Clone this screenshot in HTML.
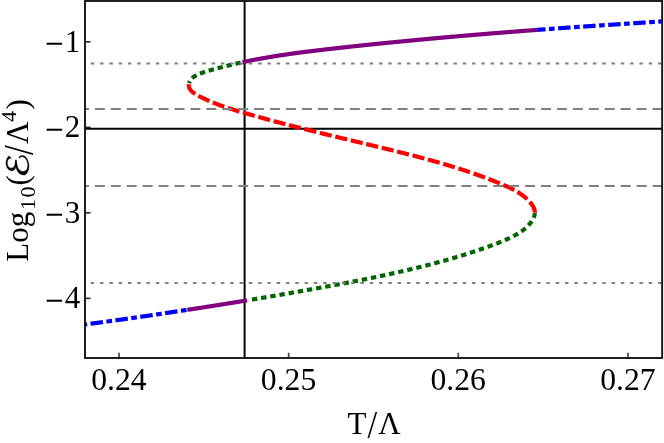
<!DOCTYPE html>
<html><head><meta charset="utf-8"><title>plot</title>
<style>
html,body{margin:0;padding:0;background:#fff;}
body{width:664px;height:443px;overflow:hidden;}
svg{display:block;will-change:transform;}
text{font-family:"Liberation Serif",serif;fill:#000;}
</style></head><body>
<svg width="664" height="443" viewBox="0 0 664 443">
<rect x="0" y="0" width="664" height="443" fill="#ffffff"/>

<g stroke="#000" stroke-width="2"><line x1="85.0" y1="128.7" x2="662.15" y2="128.7"/><line x1="244.6" y1="1.0" x2="244.6" y2="358.0"/></g>
<clipPath id="c"><rect x="85.0" y="1.0" width="577.15" height="357.0"/></clipPath>
<g clip-path="url(#c)" fill="none" stroke-width="4.2" stroke-linecap="butt" stroke-linejoin="round">
<path d="M77.99,325.40 L78.54,325.33 L79.10,325.26 L79.66,325.18 L80.21,325.11 L80.77,325.03 L81.32,324.96 L81.88,324.89 L82.44,324.81 L82.99,324.74 L83.55,324.67 L84.10,324.59 L84.66,324.52 L85.22,324.44 L85.77,324.37 L86.33,324.30 L86.89,324.22 L87.44,324.15 L88.00,324.08 L88.55,324.00 L89.11,323.93 L89.67,323.85 L90.22,323.78 L90.78,323.70 L91.33,323.63 L91.89,323.56 L92.44,323.48 L93.00,323.41 L93.56,323.33 L94.11,323.26 L94.67,323.18 L95.22,323.11 L95.78,323.03 L96.34,322.96 L96.89,322.89 L97.45,322.81 L98.00,322.74 L98.56,322.66 L99.11,322.59 L99.67,322.51 L100.23,322.44 L100.78,322.36 L101.34,322.29 L101.89,322.21 L102.45,322.14 L103.00,322.06 L103.56,321.99 L104.12,321.91 L104.67,321.84 L105.23,321.76 L105.78,321.69 L106.34,321.61 L106.89,321.54 L107.45,321.46 L108.01,321.39 L108.56,321.31 L109.12,321.23 L109.67,321.16 L110.23,321.08 L110.78,321.01 L111.34,320.93 L111.89,320.86 L112.45,320.78 L113.01,320.70 L113.56,320.63 L114.12,320.55 L114.67,320.48 L115.23,320.40 L115.78,320.33 L116.34,320.25 L116.89,320.17 L117.45,320.10 L118.00,320.02 L118.56,319.95 L119.11,319.87 L119.67,319.79 L120.23,319.72 L120.78,319.64 L121.34,319.56 L121.89,319.48 L122.45,319.40 L123.00,319.33 L123.56,319.25 L124.11,319.17 L124.67,319.09 L125.22,319.01 L125.78,318.93 L126.33,318.85 L126.89,318.77 L127.44,318.69 L128.00,318.61 L128.55,318.53 L129.11,318.45 L129.66,318.37 L130.22,318.29 L130.77,318.21 L131.33,318.14 L131.88,318.06 L132.44,317.98 L133.00,317.90 L133.55,317.82 L134.11,317.74 L134.66,317.66 L135.22,317.58 L135.77,317.50 L136.33,317.42 L136.88,317.34 L137.44,317.26 L137.99,317.18 L138.55,317.10 L139.10,317.02 L139.66,316.94 L140.21,316.86 L140.77,316.77 L141.32,316.69 L141.88,316.61 L142.43,316.53 L142.98,316.45 L143.54,316.37 L144.09,316.29 L144.65,316.21 L145.20,316.13 L145.76,316.05 L146.31,315.97 L146.87,315.89 L147.42,315.81 L147.98,315.73 L148.53,315.64 L149.09,315.56 L149.64,315.48 L150.20,315.40 L150.75,315.32 L151.31,315.24 L151.86,315.16 L152.42,315.08 L152.97,314.99 L153.53,314.91 L154.08,314.83 L154.64,314.75 L155.19,314.67 L155.74,314.59 L156.30,314.50 L156.85,314.42 L157.41,314.34 L157.96,314.26 L158.52,314.18 L159.07,314.10 L159.63,314.01 L160.18,313.93 L160.74,313.85 L161.29,313.77 L161.85,313.69 L162.40,313.60 L162.95,313.52 L163.51,313.44 L164.06,313.36 L164.62,313.27 L165.17,313.19 L165.73,313.11 L166.28,313.03 L166.84,312.94 L167.39,312.86 L167.94,312.78 L168.50,312.69 L169.05,312.61 L169.61,312.53 L170.16,312.45 L170.72,312.36 L171.27,312.28 L171.83,312.20 L172.38,312.11 L172.93,312.03 L173.49,311.95 L174.04,311.86 L174.60,311.78 L175.15,311.70 L175.71,311.61 L176.26,311.53 L176.81,311.45 L177.37,311.36 L177.92,311.28 L178.48,311.20 L179.03,311.11 L179.59,311.03 L180.14,310.94 L180.69,310.86 L181.25,310.78 L181.80,310.69 L182.36,310.61 L182.91,310.52 L183.46,310.44 L184.02,310.36 L184.57,310.27 L185.13,310.19 L185.68,310.10 L186.24,310.02 L186.79,309.93 L187.34,309.85" stroke="#0000ff" stroke-dasharray="12.5 3.45 5.7 3.45" stroke-dashoffset="-12.7"/>
<path d="M187.34,309.85 L187.90,309.76 L188.45,309.68 L189.01,309.59 L189.56,309.51 L190.11,309.43 L190.67,309.34 L191.22,309.26 L191.78,309.17 L192.33,309.09 L192.88,309.00 L193.44,308.92 L193.99,308.83 L194.55,308.74 L195.10,308.66 L195.65,308.57 L196.21,308.49 L196.76,308.40 L197.32,308.32 L197.87,308.23 L198.42,308.15 L198.98,308.06 L199.53,307.97 L200.09,307.89 L200.64,307.80 L201.19,307.72 L201.75,307.63 L202.30,307.54 L202.85,307.46 L203.41,307.37 L203.96,307.29 L204.52,307.20 L205.07,307.11 L205.62,307.03 L206.18,306.94 L206.73,306.85 L207.28,306.77 L207.84,306.68 L208.39,306.59 L208.95,306.51 L209.50,306.42 L210.05,306.33 L210.61,306.25 L211.16,306.16 L211.71,306.07 L212.27,305.99 L212.82,305.90 L213.38,305.81 L213.93,305.72 L214.48,305.64 L215.04,305.55 L215.59,305.46 L216.14,305.37 L216.70,305.29 L217.25,305.20 L217.80,305.11 L218.36,305.02 L218.91,304.94 L219.46,304.85 L220.02,304.76 L220.57,304.67 L221.13,304.58 L221.68,304.50 L222.23,304.41 L222.79,304.32 L223.34,304.23 L223.89,304.14 L224.45,304.05 L225.00,303.96 L225.55,303.88 L226.11,303.79 L226.66,303.70 L227.21,303.61 L227.77,303.52 L228.32,303.43 L228.87,303.34 L229.43,303.25 L229.98,303.16 L230.53,303.08 L231.09,302.99 L231.64,302.90 L232.19,302.81 L232.75,302.72 L233.30,302.63 L233.85,302.54 L234.41,302.45 L234.96,302.36 L235.51,302.27 L236.07,302.18 L236.62,302.09 L237.17,302.00 L237.73,301.91 L238.28,301.82 L238.83,301.73 L239.39,301.64 L239.94,301.55 L240.49,301.46 L241.05,301.37 L241.60,301.28 L242.15,301.19 L242.71,301.10 L243.26,301.01 L243.81,300.92 L244.37,300.83 L244.92,300.73 L245.47,300.64 L246.02,300.55 L246.58,300.46 L247.13,300.37" stroke="#800080"/>
<path d="M248.24,300.19 L248.79,300.10 L249.34,300.01 L249.90,299.91 L250.45,299.82 L251.00,299.73 L251.56,299.64 L252.11,299.55 L252.66,299.46 L253.21,299.36 L253.77,299.27 L254.32,299.18 L254.87,299.09 L255.43,299.00 L255.98,298.90 L256.53,298.81 L257.09,298.72 L257.64,298.63 L258.19,298.54 L258.74,298.44 L259.30,298.35 L259.85,298.26 L260.40,298.17 L260.96,298.07 L261.51,297.98 L262.06,297.89 L262.61,297.79 L263.17,297.70 L263.72,297.61 L264.27,297.51 L264.83,297.42 L265.38,297.33 L265.93,297.24 L266.48,297.14 L267.04,297.05 L267.59,296.95 L268.14,296.86 L268.70,296.77 L269.25,296.67 L269.80,296.58 L270.35,296.49 L270.91,296.39 L271.46,296.30 L272.01,296.20 L272.56,296.11 L273.12,296.02 L273.67,295.92 L274.22,295.83 L274.78,295.73 L275.33,295.64 L275.88,295.54 L276.43,295.45 L276.99,295.35 L277.54,295.26 L278.09,295.16 L278.64,295.07 L279.20,294.98 L279.75,294.88 L280.30,294.78 L280.85,294.69 L281.41,294.59 L281.96,294.50 L282.51,294.40 L283.07,294.31 L283.62,294.21 L284.17,294.12 L284.72,294.02 L285.28,293.93 L285.83,293.83 L286.38,293.73 L286.93,293.64 L287.49,293.54 L288.04,293.45 L288.59,293.35 L289.14,293.25 L289.70,293.16 L290.25,293.06 L290.80,292.96 L291.35,292.87 L291.91,292.77 L292.46,292.67 L293.01,292.58 L293.56,292.48 L294.12,292.38 L294.67,292.29 L295.22,292.19 L295.77,292.09 L296.32,292.00 L296.88,291.90 L297.43,291.80 L297.98,291.70 L298.53,291.61 L299.09,291.51 L299.64,291.41 L300.19,291.31 L300.74,291.22 L301.30,291.12 L301.85,291.02 L302.40,290.92 L302.95,290.83 L303.51,290.73 L304.06,290.63 L304.61,290.53 L305.16,290.43 L305.71,290.33 L306.27,290.24 L306.82,290.14 L307.37,290.04 L307.92,289.94 L308.48,289.84 L309.03,289.74 L309.58,289.64 L310.13,289.55 L310.68,289.45 L311.24,289.35 L311.79,289.25 L312.34,289.15 L312.89,289.05 L313.45,288.95 L314.00,288.85 L314.55,288.75 L315.10,288.65 L315.65,288.55 L316.21,288.45 L316.76,288.35 L317.31,288.25 L317.86,288.15 L318.41,288.05 L318.97,287.95 L319.52,287.85 L320.07,287.75 L320.62,287.65 L321.17,287.55 L321.73,287.45 L322.28,287.35 L322.83,287.25 L323.38,287.15 L323.94,287.05 L324.49,286.95 L325.04,286.85 L325.59,286.75 L326.14,286.65 L326.70,286.55 L327.25,286.44 L327.80,286.34 L328.35,286.24 L328.90,286.14 L329.46,286.04 L330.01,285.94 L330.56,285.83 L331.11,285.73 L331.66,285.63 L332.21,285.53 L332.77,285.43 L333.32,285.32 L333.87,285.22 L334.42,285.12 L334.97,285.02 L335.53,284.92 L336.08,284.81 L336.63,284.71 L337.18,284.61 L337.73,284.50 L338.28,284.40 L338.84,284.30 L339.39,284.19 L339.94,284.09 L340.49,283.99 L341.04,283.88 L341.60,283.78 L342.15,283.68 L342.70,283.57 L343.25,283.47 L343.80,283.36 L344.35,283.26 L344.90,283.16 L345.46,283.05 L346.01,282.95 L346.56,282.84 L347.11,282.74 L347.66,282.63 L348.21,282.53 L348.76,282.42 L349.32,282.31 L349.87,282.21 L350.42,282.10 L350.97,282.00 L351.52,281.89 L352.07,281.78 L352.62,281.68 L353.17,281.57 L353.73,281.47 L354.28,281.36 L354.83,281.25 L355.38,281.14 L355.93,281.04 L356.48,280.93 L357.03,280.82 L357.58,280.71 L358.13,280.61 L358.68,280.50 L359.23,280.39 L359.79,280.28 L360.34,280.17 L360.89,280.06 L361.44,279.96 L361.99,279.85 L362.54,279.74 L363.09,279.63 L363.64,279.52 L364.19,279.41 L364.74,279.30 L365.29,279.19 L365.84,279.08 L366.39,278.97 L366.94,278.86 L367.49,278.75 L368.04,278.63 L368.59,278.52 L369.14,278.41 L369.69,278.30 L370.24,278.19 L370.79,278.08 L371.34,277.96 L371.89,277.85 L372.44,277.74 L372.99,277.63 L373.54,277.51 L374.09,277.40 L374.64,277.29 L375.19,277.17 L375.74,277.06 L376.29,276.94 L376.84,276.83 L377.39,276.72 L377.94,276.60 L378.48,276.49 L379.03,276.37 L379.58,276.26 L380.13,276.14 L380.68,276.02 L381.23,275.91 L381.78,275.79 L382.33,275.67 L382.88,275.56 L383.42,275.44 L383.97,275.32 L384.52,275.21 L385.07,275.09 L385.62,274.97 L386.17,274.85 L386.72,274.73 L387.26,274.62 L387.81,274.50 L388.36,274.38 L388.91,274.26 L389.46,274.14 L390.00,274.02 L390.55,273.90 L391.10,273.78 L391.65,273.66 L392.20,273.54 L392.74,273.42 L393.29,273.29 L393.84,273.17 L394.39,273.05 L394.93,272.93 L395.48,272.81 L396.03,272.68 L396.57,272.56 L397.12,272.44 L397.67,272.31 L398.22,272.19 L398.76,272.07 L399.31,271.94 L399.86,271.82 L400.40,271.69 L400.95,271.57 L401.50,271.44 L402.04,271.32 L402.59,271.20 L403.13,271.07 L403.68,270.94 L404.23,270.82 L404.77,270.69 L405.32,270.57 L405.87,270.44 L406.41,270.31 L406.96,270.19 L407.50,270.06 L408.05,269.93 L408.59,269.80 L409.14,269.67 L409.68,269.54 L410.23,269.42 L410.77,269.29 L411.32,269.16 L411.86,269.03 L412.41,268.90 L412.95,268.77 L413.50,268.63 L414.04,268.50 L414.59,268.37 L415.13,268.24 L415.68,268.11 L416.22,267.98 L416.77,267.84 L417.31,267.71 L417.85,267.58 L418.40,267.44 L418.94,267.31 L419.48,267.17 L420.03,267.04 L420.57,266.90 L421.12,266.77 L421.66,266.63 L422.20,266.50 L422.75,266.36 L423.29,266.22 L423.83,266.09 L424.37,265.95 L424.92,265.81 L425.46,265.67 L426.00,265.53 L426.55,265.40 L427.09,265.26 L427.63,265.12 L428.17,264.98 L428.71,264.84 L429.26,264.70 L429.80,264.55 L430.34,264.41 L430.88,264.27 L431.42,264.13 L431.96,263.99 L432.51,263.84 L433.05,263.70 L433.59,263.56 L434.13,263.41 L434.67,263.27 L435.21,263.12 L435.75,262.98 L436.29,262.83 L436.83,262.69 L437.37,262.54 L437.91,262.39 L438.45,262.25 L438.99,262.10 L439.53,261.95 L440.07,261.80 L440.61,261.66 L441.15,261.51 L441.69,261.36 L442.23,261.21 L442.77,261.06 L443.31,260.91 L443.85,260.76 L444.39,260.61 L444.93,260.45 L445.47,260.30 L446.01,260.15 L446.54,260.00 L447.08,259.84 L447.62,259.69 L448.16,259.53 L448.70,259.38 L449.24,259.22 L449.77,259.07 L450.31,258.91 L450.85,258.76 L451.39,258.60 L451.92,258.44 L452.46,258.29 L453.00,258.13 L453.53,257.97 L454.07,257.81 L454.61,257.65 L455.14,257.49 L455.68,257.33 L456.22,257.17 L456.75,257.01 L457.29,256.85 L457.83,256.69 L458.36,256.53 L458.90,256.36 L459.43,256.20 L459.97,256.04 L460.50,255.87 L461.04,255.71 L461.57,255.54 L462.11,255.38 L462.64,255.21 L463.18,255.05 L463.71,254.88 L464.25,254.71 L464.78,254.54 L465.32,254.38 L465.85,254.21 L466.38,254.04 L466.92,253.87 L467.45,253.70 L467.98,253.53 L468.52,253.36 L469.05,253.19 L469.58,253.01 L470.12,252.84 L470.65,252.67 L471.18,252.50 L471.71,252.32 L472.25,252.15 L472.78,251.97 L473.31,251.80 L473.84,251.62 L474.38,251.45 L474.91,251.27 L475.44,251.09 L475.97,250.92 L476.50,250.74 L477.03,250.56 L477.56,250.38 L478.09,250.20 L478.62,250.02 L479.15,249.84 L479.69,249.66 L480.22,249.48 L480.75,249.29 L481.28,249.11 L481.80,248.93 L482.33,248.75 L482.86,248.56 L483.39,248.38 L483.92,248.19 L484.45,248.01 L484.98,247.82 L485.51,247.63 L486.04,247.45 L486.57,247.26 L487.09,247.07 L487.62,246.88 L488.15,246.69 L488.68,246.50 L489.20,246.31 L489.73,246.12 L490.26,245.93 L490.79,245.74 L491.31,245.54 L491.84,245.35 L492.37,245.16 L492.89,244.96 L493.42,244.77 L493.94,244.57 L494.47,244.37 L494.99,244.18 L495.52,243.98 L496.04,243.78 L496.57,243.58 L497.09,243.37 L497.61,243.17 L498.14,242.97 L498.66,242.76 L499.18,242.55 L499.70,242.34 L500.22,242.13 L500.74,241.92 L501.26,241.71 L501.78,241.50 L502.29,241.28 L502.81,241.06 L503.33,240.85 L503.84,240.62 L504.36,240.40 L504.87,240.18 L505.39,239.95 L505.90,239.73 L506.41,239.50 L506.92,239.26 L507.43,239.03 L507.94,238.79 L508.45,238.56 L508.96,238.32 L509.46,238.08 L509.97,237.83 L510.47,237.58 L510.97,237.34 L511.48,237.09 L511.98,236.83 L512.48,236.58 L512.98,236.32 L513.47,236.06 L513.97,235.79 L514.47,235.53 L514.96,235.26 L515.45,234.99 L515.95,234.71 L516.44,234.44 L516.93,234.16 L517.41,233.87 L517.90,233.58 L518.38,233.29 L518.86,233.00 L519.34,232.70 L519.81,232.40 L520.29,232.09 L520.76,231.78 L521.22,231.47 L521.69,231.15 L522.15,230.82 L522.60,230.49 L523.06,230.16 L523.51,229.82 L523.95,229.47 L524.39,229.12 L524.83,228.77 L525.26,228.40 L525.69,228.04 L526.11,227.66 L526.53,227.28 L526.94,226.89 L527.34,226.50 L527.74,226.10 L528.14,225.69 L528.53,225.27 L528.91,224.85 L529.29,224.42 L529.66,223.99 L530.02,223.54 L530.38,223.09 L530.73,222.63 L531.07,222.16 L531.40,221.68 L531.73,221.20 L532.04,220.72 L532.34,220.22 L532.62,219.73 L532.90,219.22 L533.16,218.72 L533.40,218.21 L533.63,217.69 L533.84,217.18 L534.03,216.66 L534.20,216.14 L534.36,215.61 L534.49,215.09 L534.60,214.57 L534.69,214.04 L534.75,213.52 L534.80,212.99" stroke="#006400" stroke-dasharray="5.4 3.9" stroke-dashoffset="5.55"/>
<path d="M534.80,212.99 L534.81,212.47 L534.80,211.95 L534.76,211.43 L534.70,210.91 L534.61,210.40 L534.50,209.89 L534.36,209.38 L534.20,208.87 L534.02,208.37 L533.81,207.87 L533.59,207.37 L533.35,206.88 L533.09,206.39 L532.81,205.90 L532.51,205.42 L532.20,204.95 L531.88,204.47 L531.54,204.00 L531.19,203.54 L530.83,203.08 L530.46,202.63 L530.08,202.18 L529.69,201.74 L529.29,201.30 L528.88,200.87 L528.47,200.45 L528.05,200.03 L527.63,199.62 L527.21,199.21 L526.78,198.81 L526.35,198.42 L525.92,198.03 L525.48,197.66 L525.04,197.28 L524.60,196.91 L524.16,196.55 L523.72,196.20 L523.27,195.85 L522.82,195.50 L522.37,195.16 L521.91,194.83 L521.46,194.50 L521.00,194.17 L520.54,193.86 L520.08,193.54 L519.61,193.23 L519.14,192.93 L518.68,192.63 L518.21,192.33 L517.73,192.04 L517.26,191.75 L516.78,191.47 L516.30,191.19 L515.82,190.91 L515.34,190.64 L514.86,190.37 L514.37,190.11 L513.89,189.85 L513.40,189.59 L512.91,189.33 L512.42,189.08 L511.92,188.83 L511.43,188.58 L510.93,188.34 L510.44,188.10 L509.94,187.86 L509.44,187.62 L508.94,187.39 L508.44,187.15 L507.93,186.92 L507.43,186.69 L506.93,186.46 L506.42,186.24 L505.91,186.01 L505.40,185.79 L504.89,185.57 L504.38,185.35 L503.87,185.13 L503.36,184.91 L502.85,184.69 L502.34,184.47 L501.82,184.25 L501.31,184.04 L500.79,183.82 L500.28,183.61 L499.76,183.39 L499.24,183.18 L498.73,182.96 L498.21,182.75 L497.69,182.54 L497.17,182.33 L496.65,182.12 L496.13,181.91 L495.61,181.70 L495.09,181.49 L494.57,181.28 L494.04,181.07 L493.52,180.87 L493.00,180.66 L492.47,180.45 L491.95,180.25 L491.43,180.04 L490.90,179.84 L490.38,179.64 L489.85,179.44 L489.33,179.23 L488.80,179.03 L488.28,178.83 L487.75,178.63 L487.23,178.43 L486.70,178.23 L486.17,178.04 L485.65,177.84 L485.12,177.64 L484.60,177.45 L484.07,177.25 L483.54,177.05 L483.02,176.86 L482.49,176.67 L481.96,176.47 L481.43,176.28 L480.91,176.09 L480.38,175.90 L479.85,175.71 L479.32,175.52 L478.79,175.33 L478.26,175.14 L477.74,174.95 L477.21,174.76 L476.68,174.57 L476.15,174.39 L475.62,174.20 L475.09,174.01 L474.56,173.83 L474.03,173.65 L473.50,173.46 L472.97,173.28 L472.44,173.09 L471.91,172.91 L471.38,172.73 L470.85,172.55 L470.32,172.37 L469.79,172.19 L469.26,172.01 L468.73,171.83 L468.19,171.65 L467.66,171.47 L467.13,171.29 L466.60,171.12 L466.07,170.94 L465.53,170.76 L465.00,170.59 L464.47,170.41 L463.94,170.24 L463.41,170.06 L462.87,169.89 L462.34,169.72 L461.81,169.54 L461.27,169.37 L460.74,169.20 L460.21,169.03 L459.67,168.86 L459.14,168.69 L458.61,168.52 L458.07,168.35 L457.54,168.18 L457.00,168.01 L456.47,167.84 L455.94,167.68 L455.40,167.51 L454.87,167.34 L454.33,167.18 L453.80,167.01 L453.26,166.85 L452.73,166.68 L452.19,166.52 L451.66,166.35 L451.12,166.19 L450.58,166.03 L450.05,165.86 L449.51,165.70 L448.98,165.54 L448.44,165.38 L447.90,165.22 L447.37,165.06 L446.83,164.90 L446.29,164.74 L445.76,164.58 L445.22,164.42 L444.68,164.26 L444.15,164.10 L443.61,163.94 L443.07,163.79 L442.54,163.63 L442.00,163.47 L441.46,163.32 L440.92,163.16 L440.38,163.00 L439.85,162.85 L439.31,162.69 L438.77,162.54 L438.23,162.39 L437.69,162.23 L437.16,162.08 L436.62,161.93 L436.08,161.77 L435.54,161.62 L435.00,161.47 L434.46,161.32 L433.92,161.17 L433.38,161.01 L432.85,160.86 L432.31,160.71 L431.77,160.56 L431.23,160.41 L430.69,160.26 L430.15,160.12 L429.61,159.97 L429.07,159.82 L428.53,159.67 L427.99,159.52 L427.45,159.38 L426.91,159.23 L426.37,159.08 L425.83,158.94 L425.29,158.79 L424.75,158.64 L424.21,158.50 L423.67,158.35 L423.12,158.21 L422.58,158.06 L422.04,157.92 L421.50,157.77 L420.96,157.63 L420.42,157.49 L419.88,157.34 L419.34,157.20 L418.80,157.06 L418.25,156.91 L417.71,156.77 L417.17,156.63 L416.63,156.49 L416.09,156.34 L415.55,156.20 L415.00,156.06 L414.46,155.92 L413.92,155.78 L413.38,155.64 L412.83,155.50 L412.29,155.36 L411.75,155.22 L411.21,155.08 L410.67,154.94 L410.12,154.80 L409.58,154.66 L409.04,154.52 L408.49,154.39 L407.95,154.25 L407.41,154.11 L406.87,153.97 L406.32,153.83 L405.78,153.70 L405.24,153.56 L404.69,153.42 L404.15,153.28 L403.61,153.15 L403.06,153.01 L402.52,152.87 L401.98,152.74 L401.43,152.60 L400.89,152.47 L400.35,152.33 L399.80,152.19 L399.26,152.06 L398.72,151.92 L398.17,151.79 L397.63,151.65 L397.08,151.52 L396.54,151.38 L396.00,151.25 L395.45,151.11 L394.91,150.98 L394.36,150.85 L393.82,150.71 L393.28,150.58 L392.73,150.44 L392.19,150.31 L391.64,150.18 L391.10,150.04 L390.55,149.91 L390.01,149.78 L389.46,149.64 L388.92,149.51 L388.38,149.38 L387.83,149.24 L387.29,149.11 L386.74,148.98 L386.20,148.85 L385.65,148.71 L385.11,148.58 L384.56,148.45 L384.02,148.32 L383.47,148.18 L382.93,148.05 L382.38,147.92 L381.84,147.79 L381.29,147.66 L380.75,147.52 L380.20,147.39 L379.66,147.26 L379.11,147.13 L378.57,147.00 L378.02,146.87 L377.48,146.73 L376.93,146.60 L376.39,146.47 L375.84,146.34 L375.30,146.21 L374.75,146.08 L374.21,145.95 L373.66,145.81 L373.12,145.68 L372.57,145.55 L372.02,145.42 L371.48,145.29 L370.93,145.16 L370.39,145.03 L369.84,144.90 L369.30,144.76 L368.75,144.63 L368.21,144.50 L367.66,144.37 L367.12,144.24 L366.57,144.11 L366.03,143.98 L365.48,143.85 L364.93,143.72 L364.39,143.59 L363.84,143.45 L363.30,143.32 L362.75,143.19 L362.21,143.06 L361.66,142.93 L361.12,142.80 L360.57,142.67 L360.02,142.54 L359.48,142.41 L358.93,142.28 L358.39,142.15 L357.84,142.02 L357.30,141.88 L356.75,141.75 L356.20,141.62 L355.66,141.49 L355.11,141.36 L354.57,141.23 L354.02,141.10 L353.48,140.97 L352.93,140.84 L352.38,140.71 L351.84,140.58 L351.29,140.44 L350.75,140.31 L350.20,140.18 L349.66,140.05 L349.11,139.92 L348.57,139.79 L348.02,139.66 L347.47,139.53 L346.93,139.40 L346.38,139.27 L345.84,139.13 L345.29,139.00 L344.75,138.87 L344.20,138.74 L343.65,138.61 L343.11,138.48 L342.56,138.35 L342.02,138.22 L341.47,138.08 L340.93,137.95 L340.38,137.82 L339.84,137.69 L339.29,137.56 L338.74,137.43 L338.20,137.30 L337.65,137.16 L337.11,137.03 L336.56,136.90 L336.02,136.77 L335.47,136.64 L334.93,136.51 L334.38,136.37 L333.84,136.24 L333.29,136.11 L332.75,135.98 L332.20,135.85 L331.65,135.71 L331.11,135.58 L330.56,135.45 L330.02,135.32 L329.47,135.18 L328.93,135.05 L328.38,134.92 L327.84,134.79 L327.29,134.65 L326.75,134.52 L326.20,134.39 L325.66,134.26 L325.11,134.12 L324.57,133.99 L324.02,133.86 L323.48,133.72 L322.93,133.59 L322.39,133.46 L321.84,133.32 L321.30,133.19 L320.75,133.06 L320.21,132.92 L319.66,132.79 L319.12,132.66 L318.57,132.52 L318.03,132.39 L317.48,132.25 L316.94,132.12 L316.39,131.99 L315.85,131.85 L315.31,131.72 L314.76,131.58 L314.22,131.45 L313.67,131.31 L313.13,131.18 L312.58,131.04 L312.04,130.91 L311.49,130.77 L310.95,130.64 L310.41,130.50 L309.86,130.37 L309.32,130.23 L308.77,130.10 L308.23,129.96 L307.68,129.83 L307.14,129.69 L306.60,129.56 L306.05,129.42 L305.51,129.28 L304.96,129.15 L304.42,129.01 L303.88,128.87 L303.33,128.74 L302.79,128.60 L302.25,128.46 L301.70,128.33 L301.16,128.19 L300.61,128.05 L300.07,127.92 L299.53,127.78 L298.98,127.64 L298.44,127.50 L297.90,127.37 L297.35,127.23 L296.81,127.09 L296.27,126.95 L295.72,126.81 L295.18,126.68 L294.64,126.54 L294.10,126.40 L293.55,126.26 L293.01,126.12 L292.47,125.98 L291.92,125.84 L291.38,125.70 L290.84,125.56 L290.30,125.43 L289.75,125.29 L289.21,125.15 L288.67,125.01 L288.13,124.87 L287.58,124.73 L287.04,124.58 L286.50,124.44 L285.96,124.30 L285.41,124.16 L284.87,124.02 L284.33,123.88 L283.79,123.74 L283.25,123.60 L282.71,123.46 L282.16,123.31 L281.62,123.17 L281.08,123.03 L280.54,122.89 L280.00,122.75 L279.46,122.60 L278.91,122.46 L278.37,122.32 L277.83,122.17 L277.29,122.03 L276.75,121.89 L276.21,121.74 L275.67,121.60 L275.13,121.46 L274.58,121.31 L274.04,121.17 L273.50,121.02 L272.96,120.88 L272.42,120.73 L271.88,120.59 L271.34,120.44 L270.80,120.30 L270.26,120.15 L269.72,120.01 L269.18,119.86 L268.64,119.72 L268.10,119.57 L267.56,119.42 L267.02,119.28 L266.48,119.13 L265.94,118.98 L265.40,118.84 L264.86,118.69 L264.32,118.54 L263.78,118.39 L263.24,118.24 L262.70,118.10 L262.16,117.95 L261.62,117.80 L261.09,117.65 L260.55,117.50 L260.01,117.35 L259.47,117.20 L258.93,117.05 L258.39,116.90 L257.85,116.75 L257.31,116.60 L256.78,116.45 L256.24,116.30 L255.70,116.15 L255.16,116.00 L254.62,115.85 L254.08,115.70 L253.55,115.55 L253.01,115.40 L252.47,115.24 L251.93,115.09 L251.40,114.94 L250.86,114.79 L250.32,114.63 L249.78,114.48 L249.25,114.33 L248.71,114.17 L248.17,114.02 L247.63,113.86 L247.10,113.71 L246.56,113.55 L246.02,113.40 L245.49,113.25 L244.95,113.09 L244.42,112.93 L243.88,112.78 L243.34,112.62 L242.81,112.47 L242.27,112.31 L241.73,112.15 L241.20,112.00 L240.66,111.84 L240.13,111.68 L239.59,111.52 L239.06,111.37 L238.52,111.21 L237.99,111.05 L237.45,110.89 L236.92,110.73 L236.38,110.57 L235.85,110.41 L235.31,110.24 L234.78,110.08 L234.24,109.92 L233.71,109.76 L233.18,109.59 L232.64,109.43 L232.11,109.26 L231.58,109.09 L231.04,108.93 L230.51,108.76 L229.98,108.59 L229.44,108.42 L228.91,108.25 L228.38,108.08 L227.85,107.91 L227.32,107.73 L226.78,107.56 L226.25,107.38 L225.72,107.20 L225.19,107.03 L224.66,106.85 L224.13,106.67 L223.60,106.49 L223.07,106.30 L222.54,106.12 L222.01,105.93 L221.48,105.75 L220.96,105.56 L220.43,105.37 L219.90,105.18 L219.37,104.99 L218.85,104.79 L218.32,104.60 L217.79,104.40 L217.27,104.20 L216.74,104.00 L216.21,103.80 L215.69,103.60 L215.16,103.40 L214.64,103.19 L214.11,102.98 L213.59,102.77 L213.07,102.56 L212.54,102.35 L212.02,102.13 L211.50,101.92 L210.98,101.70 L210.45,101.48 L209.93,101.25 L209.41,101.03 L208.89,100.80 L208.37,100.57 L207.85,100.34 L207.33,100.11 L206.81,99.87 L206.29,99.64 L205.78,99.40 L205.26,99.16 L204.74,98.91 L204.22,98.67 L203.71,98.42 L203.19,98.17 L202.68,97.91 L202.16,97.66 L201.65,97.40 L201.13,97.14 L200.62,96.88 L200.11,96.61 L199.59,96.35 L199.08,96.08 L198.57,95.80 L198.06,95.53 L197.55,95.25 L197.04,94.97 L196.53,94.68 L196.03,94.39 L195.54,94.10 L195.05,93.80 L194.57,93.49 L194.10,93.18 L193.65,92.86 L193.20,92.54 L192.77,92.20 L192.36,91.86 L191.96,91.51 L191.58,91.14 L191.22,90.77 L190.88,90.39 L190.56,89.99 L190.27,89.59 L190.00,89.17 L189.76,88.74 L189.55,88.29 L189.36,87.83 L189.21,87.36 L189.09,86.87 L189.00,86.36 L188.94,85.84 L188.92,85.31 L188.93,84.77 L188.98,84.23 L189.05,83.69 L189.16,83.16" stroke="#ff0000" stroke-dasharray="12.2 3.7" stroke-dashoffset="-0.35"/>
<path d="M189.16,83.16 L189.30,82.64 L189.47,82.13 L189.67,81.63 L189.90,81.15 L190.16,80.68 L190.44,80.23 L190.75,79.79 L191.09,79.36 L191.44,78.95 L191.82,78.55 L192.22,78.16 L192.64,77.79 L193.08,77.42 L193.53,77.07 L194.00,76.73 L194.49,76.40 L194.98,76.08 L195.49,75.78 L196.01,75.48 L196.55,75.19 L197.08,74.91 L197.63,74.64 L198.19,74.38 L198.74,74.13 L199.31,73.89 L199.87,73.65 L200.44,73.43 L201.01,73.21 L201.57,73.00 L202.14,72.79 L202.70,72.59 L203.25,72.40 L203.81,72.22 L204.35,72.04 L204.90,71.86 L205.43,71.69 L205.97,71.52 L206.50,71.36 L207.03,71.20 L207.56,71.04 L208.08,70.88 L208.61,70.73 L209.13,70.58 L209.65,70.44 L210.17,70.29 L210.69,70.15 L211.21,70.00 L211.73,69.86 L212.25,69.72 L212.78,69.57 L213.30,69.43 L213.83,69.29 L214.35,69.15 L214.88,69.01 L215.41,68.86 L215.93,68.72 L216.46,68.58 L216.99,68.44 L217.53,68.30 L218.06,68.16 L218.59,68.01 L219.12,67.87 L219.66,67.73 L220.19,67.59 L220.73,67.45 L221.26,67.31 L221.80,67.17 L222.34,67.03 L222.88,66.90 L223.42,66.76 L223.96,66.62 L224.49,66.48 L225.04,66.34 L225.58,66.21 L226.12,66.07 L226.66,65.93 L227.20,65.80 L227.75,65.66 L228.29,65.53 L228.83,65.39 L229.38,65.26 L229.92,65.13 L230.47,64.99 L231.01,64.86 L231.56,64.73 L232.10,64.60 L232.65,64.47 L233.20,64.34 L233.74,64.21 L234.29,64.08 L234.84,63.95 L235.39,63.83 L235.93,63.70 L236.48,63.57 L237.03,63.45 L237.58,63.32 L238.13,63.20 L238.67,63.08 L239.22,62.95 L239.77,62.83 L240.32,62.71 L240.87,62.59 L241.42,62.47 L241.97,62.35 L242.51,62.23" stroke="#006400" stroke-dasharray="5.4 3.8" stroke-dashoffset="3.4"/>
<path d="M242.51,62.23 L243.06,62.11 L243.61,61.99 L244.16,61.87 L244.71,61.76 L245.26,61.64 L245.81,61.53 L246.36,61.41 L246.91,61.30 L247.46,61.18 L248.01,61.07 L248.56,60.96 L249.11,60.85 L249.66,60.74 L250.21,60.63 L250.76,60.52 L251.31,60.41 L251.86,60.30 L252.41,60.19 L252.96,60.08 L253.51,59.97 L254.06,59.87 L254.61,59.76 L255.16,59.66 L255.71,59.55 L256.26,59.45 L256.81,59.34 L257.36,59.24 L257.91,59.14 L258.47,59.04 L259.02,58.93 L259.57,58.83 L260.12,58.73 L260.67,58.63 L261.22,58.53 L261.77,58.43 L262.33,58.34 L262.88,58.24 L263.43,58.14 L263.98,58.04 L264.53,57.95 L265.08,57.85 L265.64,57.76 L266.19,57.66 L266.74,57.57 L267.29,57.47 L267.84,57.38 L268.40,57.29 L268.95,57.20 L269.50,57.10 L270.05,57.01 L270.61,56.92 L271.16,56.83 L271.71,56.73 L272.26,56.64 L272.82,56.55 L273.37,56.46 L273.92,56.37 L274.47,56.28 L275.03,56.19 L275.58,56.10 L276.13,56.01 L276.69,55.92 L277.24,55.83 L277.79,55.74 L278.35,55.66 L278.90,55.57 L279.45,55.48 L280.01,55.40 L280.56,55.31 L281.11,55.23 L281.67,55.14 L282.22,55.06 L282.77,54.97 L283.33,54.89 L283.88,54.81 L284.44,54.72 L284.99,54.64 L285.54,54.56 L286.10,54.48 L286.65,54.40 L287.21,54.32 L287.76,54.24 L288.31,54.16 L288.87,54.08 L289.42,54.00 L289.98,53.92 L290.53,53.84 L291.08,53.76 L291.64,53.68 L292.19,53.61 L292.75,53.53 L293.30,53.45 L293.86,53.38 L294.41,53.30 L294.97,53.22 L295.52,53.15 L296.08,53.07 L296.63,53.00 L297.19,52.92 L297.74,52.85 L298.30,52.78 L298.85,52.70 L299.41,52.63 L299.96,52.56 L300.52,52.48 L301.07,52.41 L301.63,52.34 L302.18,52.27 L302.74,52.20 L303.29,52.13 L303.85,52.06 L304.40,51.99 L304.96,51.92 L305.51,51.85 L306.07,51.78 L306.63,51.71 L307.18,51.64 L307.74,51.57 L308.29,51.50 L308.85,51.43 L309.40,51.36 L309.96,51.30 L310.51,51.23 L311.07,51.16 L311.63,51.10 L312.18,51.03 L312.74,50.96 L313.29,50.90 L313.85,50.83 L314.41,50.76 L314.96,50.70 L315.52,50.63 L316.07,50.57 L316.63,50.50 L317.19,50.44 L317.74,50.37 L318.30,50.31 L318.85,50.25 L319.41,50.18 L319.97,50.12 L320.52,50.05 L321.08,49.99 L321.64,49.92 L322.19,49.85 L322.75,49.79 L323.31,49.72 L323.86,49.65 L324.42,49.59 L324.97,49.52 L325.53,49.46 L326.09,49.39 L326.64,49.33 L327.20,49.26 L327.76,49.20 L328.31,49.13 L328.87,49.07 L329.43,49.00 L329.98,48.94 L330.54,48.87 L331.10,48.81 L331.65,48.75 L332.21,48.68 L332.77,48.62 L333.32,48.55 L333.88,48.49 L334.44,48.43 L334.99,48.37 L335.55,48.30 L336.11,48.24 L336.66,48.18 L337.22,48.11 L337.78,48.05 L338.34,47.99 L338.89,47.93 L339.45,47.86 L340.01,47.80 L340.56,47.74 L341.12,47.68 L341.68,47.62 L342.23,47.55 L342.79,47.49 L343.35,47.43 L343.90,47.37 L344.46,47.31 L345.02,47.25 L345.58,47.19 L346.13,47.12 L346.69,47.06 L347.25,47.00 L347.80,46.94 L348.36,46.88 L348.92,46.82 L349.48,46.76 L350.03,46.70 L350.59,46.64 L351.15,46.58 L351.70,46.52 L352.26,46.46 L352.82,46.40 L353.38,46.34 L353.93,46.28 L354.49,46.22 L355.05,46.16 L355.60,46.10 L356.16,46.04 L356.72,45.98 L357.28,45.92 L357.83,45.86 L358.39,45.80 L358.95,45.74 L359.51,45.68 L360.06,45.62 L360.62,45.56 L361.18,45.50 L361.73,45.45 L362.29,45.39 L362.85,45.33 L363.41,45.27 L363.96,45.21 L364.52,45.15 L365.08,45.09 L365.64,45.04 L366.19,44.98 L366.75,44.92 L367.31,44.86 L367.87,44.80 L368.42,44.75 L368.98,44.69 L369.54,44.63 L370.10,44.57 L370.65,44.51 L371.21,44.46 L371.77,44.40 L372.33,44.34 L372.88,44.29 L373.44,44.23 L374.00,44.17 L374.56,44.11 L375.11,44.06 L375.67,44.00 L376.23,43.94 L376.79,43.89 L377.34,43.83 L377.90,43.77 L378.46,43.72 L379.02,43.66 L379.57,43.61 L380.13,43.55 L380.69,43.49 L381.25,43.44 L381.81,43.38 L382.36,43.32 L382.92,43.27 L383.48,43.21 L384.04,43.16 L384.59,43.10 L385.15,43.05 L385.71,42.99 L386.27,42.94 L386.82,42.88 L387.38,42.83 L387.94,42.77 L388.50,42.71 L389.06,42.66 L389.61,42.61 L390.17,42.55 L390.73,42.50 L391.29,42.44 L391.85,42.39 L392.40,42.33 L392.96,42.28 L393.52,42.22 L394.08,42.17 L394.63,42.11 L395.19,42.06 L395.75,42.01 L396.31,41.95 L396.87,41.90 L397.42,41.84 L397.98,41.79 L398.54,41.74 L399.10,41.68 L399.66,41.63 L400.21,41.58 L400.77,41.52 L401.33,41.47 L401.89,41.41 L402.45,41.36 L403.00,41.30 L403.56,41.25 L404.12,41.19 L404.68,41.14 L405.24,41.08 L405.79,41.03 L406.35,40.98 L406.91,40.92 L407.47,40.87 L408.03,40.81 L408.59,40.76 L409.14,40.71 L409.70,40.65 L410.26,40.60 L410.82,40.55 L411.38,40.49 L411.93,40.44 L412.49,40.38 L413.05,40.33 L413.61,40.28 L414.17,40.22 L414.72,40.17 L415.28,40.12 L415.84,40.07 L416.40,40.01 L416.96,39.96 L417.52,39.91 L418.07,39.85 L418.63,39.80 L419.19,39.75 L419.75,39.70 L420.31,39.64 L420.87,39.59 L421.42,39.54 L421.98,39.49 L422.54,39.44 L423.10,39.38 L423.66,39.33 L424.22,39.28 L424.77,39.23 L425.33,39.18 L425.89,39.12 L426.45,39.07 L427.01,39.02 L427.57,38.97 L428.12,38.92 L428.68,38.87 L429.24,38.81 L429.80,38.76 L430.36,38.71 L430.92,38.66 L431.47,38.61 L432.03,38.56 L432.59,38.51 L433.15,38.46 L433.71,38.40 L434.27,38.35 L434.83,38.30 L435.38,38.25 L435.94,38.20 L436.50,38.15 L437.06,38.10 L437.62,38.05 L438.18,38.00 L438.73,37.95 L439.29,37.90 L439.85,37.85 L440.41,37.80 L440.97,37.75 L441.53,37.70 L442.09,37.65 L442.64,37.60 L443.20,37.55 L443.76,37.50 L444.32,37.45 L444.88,37.40 L445.44,37.35 L446.00,37.30 L446.55,37.25 L447.11,37.20 L447.67,37.15 L448.23,37.10 L448.79,37.05 L449.35,37.00 L449.91,36.95 L450.46,36.91 L451.02,36.86 L451.58,36.81 L452.14,36.76 L452.70,36.71 L453.26,36.66 L453.82,36.61 L454.38,36.56 L454.93,36.51 L455.49,36.47 L456.05,36.42 L456.61,36.37 L457.17,36.32 L457.73,36.27 L458.29,36.22 L458.85,36.18 L459.40,36.13 L459.96,36.08 L460.52,36.03 L461.08,35.98 L461.64,35.93 L462.20,35.89 L462.76,35.84 L463.32,35.79 L463.87,35.74 L464.43,35.70 L464.99,35.65 L465.55,35.60 L466.11,35.55 L466.67,35.51 L467.23,35.46 L467.79,35.41 L468.34,35.36 L468.90,35.32 L469.46,35.27 L470.02,35.22 L470.58,35.17 L471.14,35.13 L471.70,35.08 L472.26,35.03 L472.82,34.99 L473.37,34.94 L473.93,34.89 L474.49,34.85 L475.05,34.80 L475.61,34.75 L476.17,34.71 L476.73,34.66 L477.29,34.61 L477.85,34.57 L478.40,34.52 L478.96,34.47 L479.52,34.43 L480.08,34.38 L480.64,34.33 L481.20,34.29 L481.76,34.24 L482.32,34.19 L482.88,34.15 L483.43,34.10 L483.99,34.06 L484.55,34.01 L485.11,33.96 L485.67,33.92 L486.23,33.87 L486.79,33.83 L487.35,33.78 L487.91,33.74 L488.47,33.69 L489.02,33.64 L489.58,33.60 L490.14,33.55 L490.70,33.51 L491.26,33.46 L491.82,33.42 L492.38,33.37 L492.94,33.33 L493.50,33.28 L494.06,33.24 L494.62,33.19 L495.17,33.15 L495.73,33.10 L496.29,33.06 L496.85,33.01 L497.41,32.97 L497.97,32.92 L498.53,32.88 L499.09,32.83 L499.65,32.79 L500.21,32.74 L500.76,32.70 L501.32,32.65 L501.88,32.61 L502.44,32.56 L503.00,32.52 L503.56,32.48 L504.12,32.43 L504.68,32.39 L505.24,32.34 L505.80,32.30 L506.36,32.25 L506.92,32.21 L507.47,32.17 L508.03,32.12 L508.59,32.08 L509.15,32.03 L509.71,31.99 L510.27,31.95 L510.83,31.90 L511.39,31.86 L511.95,31.81 L512.51,31.77 L513.07,31.73 L513.62,31.68 L514.18,31.64 L514.74,31.60 L515.30,31.55 L515.86,31.51 L516.42,31.46 L516.98,31.42 L517.54,31.38 L518.10,31.33 L518.66,31.29 L519.22,31.25 L519.78,31.20 L520.34,31.16 L520.89,31.12 L521.45,31.07 L522.01,31.03 L522.57,30.99 L523.13,30.95 L523.69,30.90 L524.25,30.86 L524.81,30.82 L525.37,30.77 L525.93,30.73 L526.49,30.69 L527.05,30.65 L527.61,30.60 L528.16,30.56 L528.72,30.52 L529.28,30.47 L529.84,30.43 L530.40,30.39 L530.96,30.35 L531.52,30.30 L532.08,30.26 L532.64,30.22 L533.20,30.18 L533.76,30.13 L534.32,30.09 L534.88,30.05 L535.43,30.01 L535.99,29.97 L536.55,29.92 L537.11,29.88" stroke="#800080"/>
<path d="M537.11,29.88 L537.67,29.84 L538.23,29.80 L538.79,29.76 L539.35,29.71 L539.91,29.67 L540.47,29.63 L541.03,29.59 L541.59,29.55 L542.15,29.51 L542.71,29.46 L543.26,29.42 L543.82,29.38 L544.38,29.34 L544.94,29.30 L545.50,29.26 L546.06,29.22 L546.62,29.18 L547.18,29.13 L547.74,29.09 L548.30,29.05 L548.86,29.01 L549.42,28.97 L549.98,28.93 L550.54,28.89 L551.10,28.85 L551.65,28.80 L552.21,28.76 L552.77,28.72 L553.33,28.68 L553.89,28.64 L554.45,28.60 L555.01,28.56 L555.57,28.52 L556.13,28.48 L556.69,28.44 L557.25,28.40 L557.81,28.36 L558.37,28.31 L558.93,28.27 L559.49,28.23 L560.04,28.19 L560.60,28.15 L561.16,28.11 L561.72,28.07 L562.28,28.03 L562.84,27.99 L563.40,27.95 L563.96,27.91 L564.52,27.87 L565.08,27.83 L565.64,27.79 L566.20,27.75 L566.76,27.71 L567.32,27.67 L567.88,27.63 L568.43,27.59 L568.99,27.55 L569.55,27.51 L570.11,27.47 L570.67,27.43 L571.23,27.39 L571.79,27.35 L572.35,27.31 L572.91,27.27 L573.47,27.23 L574.03,27.19 L574.59,27.15 L575.15,27.11 L575.71,27.07 L576.27,27.03 L576.82,26.99 L577.38,26.96 L577.94,26.92 L578.50,26.88 L579.06,26.84 L579.62,26.80 L580.18,26.77 L580.74,26.73 L581.30,26.69 L581.86,26.65 L582.42,26.62 L582.98,26.58 L583.54,26.54 L584.10,26.50 L584.66,26.47 L585.22,26.43 L585.77,26.39 L586.33,26.35 L586.89,26.32 L587.45,26.28 L588.01,26.24 L588.57,26.21 L589.13,26.17 L589.69,26.13 L590.25,26.09 L590.81,26.06 L591.37,26.02 L591.93,25.98 L592.49,25.94 L593.05,25.91 L593.61,25.87 L594.16,25.83 L594.72,25.80 L595.28,25.76 L595.84,25.72 L596.40,25.69 L596.96,25.65 L597.52,25.61 L598.08,25.57 L598.64,25.54 L599.20,25.50 L599.76,25.46 L600.32,25.43 L600.88,25.39 L601.44,25.35 L602.00,25.32 L602.56,25.28 L603.11,25.24 L603.67,25.20 L604.23,25.17 L604.79,25.13 L605.35,25.09 L605.91,25.06 L606.47,25.02 L607.03,24.98 L607.59,24.95 L608.15,24.91 L608.71,24.87 L609.27,24.84 L609.83,24.80 L610.39,24.76 L610.94,24.73 L611.50,24.69 L612.06,24.65 L612.62,24.62 L613.18,24.58 L613.74,24.54 L614.30,24.51 L614.86,24.47 L615.42,24.43 L615.98,24.40 L616.54,24.36 L617.10,24.32 L617.66,24.29 L618.22,24.25 L618.78,24.21 L619.33,24.18 L619.89,24.14 L620.45,24.10 L621.01,24.07 L621.57,24.03 L622.13,24.00 L622.69,23.96 L623.25,23.92 L623.81,23.89 L624.37,23.85 L624.93,23.81 L625.49,23.78 L626.05,23.74 L626.61,23.70 L627.16,23.67 L627.72,23.63 L628.28,23.59 L628.84,23.56 L629.40,23.52 L629.96,23.49 L630.52,23.45 L631.08,23.41 L631.64,23.38 L632.20,23.34 L632.76,23.30 L633.32,23.27 L633.88,23.23 L634.43,23.19 L634.99,23.16 L635.55,23.12 L636.11,23.09 L636.67,23.05 L637.23,23.01 L637.79,22.98 L638.35,22.94 L638.91,22.90 L639.47,22.87 L640.03,22.83 L640.59,22.80 L641.15,22.76 L641.70,22.72 L642.26,22.69 L642.82,22.65 L643.38,22.61 L643.94,22.58 L644.50,22.54 L645.06,22.51 L645.62,22.47 L646.18,22.43 L646.74,22.40 L647.30,22.36 L647.86,22.32 L648.41,22.29 L648.97,22.25 L649.53,22.22 L650.09,22.18 L650.65,22.14 L651.21,22.11 L651.77,22.07 L652.33,22.03 L652.89,22.00 L653.45,21.96 L654.01,21.93 L654.56,21.89 L655.12,21.85 L655.68,21.82 L656.24,21.78 L656.80,21.74 L657.36,21.71 L657.92,21.67 L658.48,21.64 L659.04,21.60 L659.60,21.56 L660.16,21.53 L660.72,21.49 L661.27,21.45 L661.83,21.42 L662.39,21.38 L662.95,21.35 L663.51,21.31 L664.07,21.27 L664.63,21.24 L665.19,21.20 L665.75,21.16 L666.31,21.13 L666.86,21.09 L667.42,21.06 L667.98,21.02" stroke="#0000ff" stroke-dasharray="12.5 3.45 5.7 3.45" stroke-dashoffset="4.05"/>
</g>
<g stroke="#808080" stroke-width="1.9" fill="none">
<line x1="85.0" y1="63.5" x2="662.15" y2="63.5" stroke-dasharray="3.5 5.8" stroke-dashoffset="3.6"/>
<line x1="85.0" y1="283.0" x2="662.15" y2="283.0" stroke-dasharray="3.5 5.8" stroke-dashoffset="3.6"/>
<line x1="85.0" y1="109.0" x2="662.15" y2="109.0" stroke-dasharray="10 5.935" stroke-dashoffset="6.1"/>
<line x1="85.0" y1="186.0" x2="662.15" y2="186.0" stroke-dasharray="10 5.935" stroke-dashoffset="6.1"/>
</g>
<g stroke="#2a2a2a" stroke-width="1.6">
<line x1="119.0" y1="358.0" x2="119.0" y2="352.7" stroke="#505050" stroke-width="1.8"/>
<line x1="288.67" y1="358.0" x2="288.67" y2="352.7" stroke="#505050" stroke-width="1.8"/>
<line x1="458.33" y1="358.0" x2="458.33" y2="352.7" stroke="#505050" stroke-width="1.8"/>
<line x1="628.0" y1="358.0" x2="628.0" y2="352.7" stroke="#505050" stroke-width="1.8"/>
<line x1="85.0" y1="41.85" x2="90.5" y2="41.85"/>
<line x1="85.0" y1="127.35" x2="90.5" y2="127.35"/>
<line x1="85.0" y1="212.85" x2="90.5" y2="212.85"/>
<line x1="85.0" y1="298.35" x2="90.5" y2="298.35"/>
</g>
<rect x="85.0" y="1.0" width="577.15" height="357.0" fill="none" stroke="#151515" stroke-width="1.9"/>
<g font-size="31px">
<text x="91.20" y="390" textLength="55.4" lengthAdjust="spacingAndGlyphs">0.24</text>
<text x="260.87" y="390" textLength="55.4" lengthAdjust="spacingAndGlyphs">0.25</text>
<text x="430.53" y="390" textLength="55.4" lengthAdjust="spacingAndGlyphs">0.26</text>
<text x="600.20" y="390" textLength="55.4" lengthAdjust="spacingAndGlyphs">0.27</text>
<text y="51.85"><tspan x="45.2" dy="2.2" textLength="18.3" lengthAdjust="spacingAndGlyphs" stroke="#000" stroke-width="0.3">−</tspan><tspan x="80.3" dy="-2.2" text-anchor="end">1</tspan></text>
<text y="137.35"><tspan x="45.2" dy="2.2" textLength="18.3" lengthAdjust="spacingAndGlyphs" stroke="#000" stroke-width="0.3">−</tspan><tspan x="80.3" dy="-2.2" text-anchor="end">2</tspan></text>
<text y="222.85"><tspan x="45.2" dy="2.2" textLength="18.3" lengthAdjust="spacingAndGlyphs" stroke="#000" stroke-width="0.3">−</tspan><tspan x="80.3" dy="-2.2" text-anchor="end">3</tspan></text>
<text y="308.35"><tspan x="45.2" dy="2.2" textLength="18.3" lengthAdjust="spacingAndGlyphs" stroke="#000" stroke-width="0.3">−</tspan><tspan x="80.3" dy="-2.2" text-anchor="end">4</tspan></text>
</g>
<g font-size="31px"><text x="347.5" y="434">T</text><text transform="translate(367.5,438.4) scale(1.12,1.31)" x="0" y="0">/</text><text x="378.2" y="434">Λ</text></g>
<g transform="translate(28.2,261.4) rotate(-90)" font-size="31px">
<text x="-0.4" y="0">Log</text>
<text x="51.4" y="6.8" font-size="22px">1</text>
<text x="63.8" y="6.8" font-size="22px">0</text>
<text x="76" y="0">(</text>
<text x="117.5" y="0">Λ</text>
<text x="139.4" y="-12.2" font-size="22px">4</text>
<text x="152" y="0">)</text>
<text transform="translate(106.4,4.5) scale(1.12,1.35)" x="0" y="0">/</text>
</g>
<path d="M 9.05,155.99 C 7.58,156.99 5.99,159.63 5.99,162.86 C 5.99,167.27 8.46,170.79 11.69,170.79 C 14.62,170.79 16.39,167.85 16.39,163.74 L 16.27,160.22 L 15.39,160.22 C 15.27,161.40 15.15,163.74 14.80,165.21 C 14.04,167.27 12.57,168.27 10.81,168.15 C 8.46,167.85 7.17,165.51 7.28,162.86 C 7.40,160.81 8.17,159.34 9.93,158.34 L 11.40,158.17 L 9.05,155.99 Z M 15.39,160.22 C 15.39,163.74 15.80,167.85 17.38,171.08 C 18.74,173.73 21.38,175.02 24.02,175.02 C 26.66,174.90 28.42,171.38 28.89,167.85 C 29.30,163.74 28.13,159.05 25.49,156.70 C 23.73,155.23 20.79,155.23 19.32,156.70 C 18.91,157.17 18.79,157.64 19.03,157.99 L 19.62,158.11 C 19.91,157.28 21.08,156.70 22.43,156.82 C 25.19,157.28 27.25,160.22 27.72,163.74 C 28.01,166.97 27.25,169.62 25.49,170.79 C 23.43,172.08 20.79,171.67 19.03,169.62 C 17.38,167.56 16.68,163.74 16.45,160.22 Z" fill="#000" stroke="#000" stroke-width="0.45" stroke-linejoin="round"/>
</svg></body></html>
